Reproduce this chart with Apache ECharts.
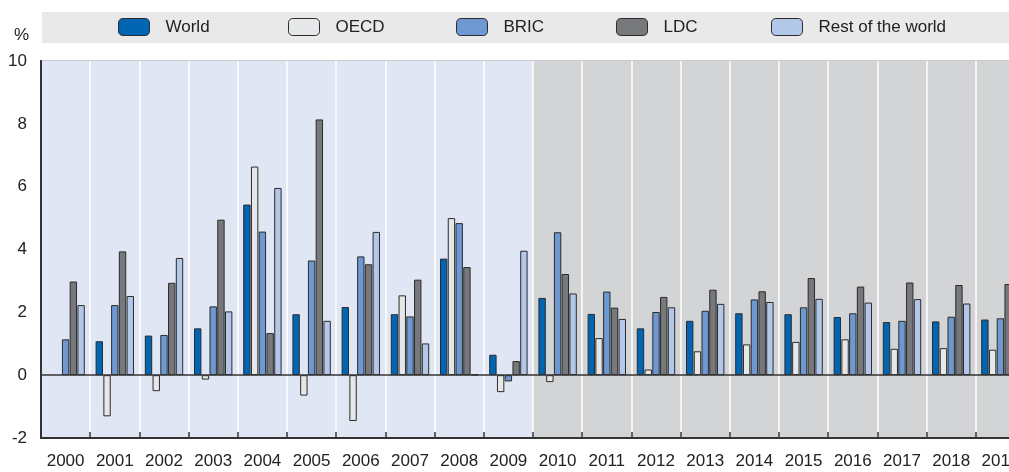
<!DOCTYPE html>
<html>
<head>
<meta charset="utf-8">
<title>Growth by country group</title>
<script src="https://cdn.jsdelivr.net/npm/echarts@6/dist/echarts.min.js"></script>
<style>
  html, body { margin: 0; padding: 0; background: #fff; overflow: hidden; }
  /* 图表比窗口略宽，最后一年在右边被截掉 */
  #chart { width: 1025px; height: 472px; }
</style>
</head>
<body>
<div id="chart"></div>
<script>
// 年份
const years = ['2000', '2001', '2002', '2003', '2004', '2005', '2006', '2007', '2008', '2009',
  '2010', '2011', '2012', '2013', '2014', '2015', '2016', '2017', '2018', '2019']
// 各组数据 (%)
const world = [null, 1.08, 1.26, 1.49, 5.43, 1.94, 2.17, 1.94, 3.71, 0.65,
  2.46, 1.95, 1.49, 1.73, 1.97, 1.94, 1.85, 1.69, 1.71, 1.77]
const oecd = [null, -1.31, -0.51, -0.14, 6.64, -0.65, -1.46, 2.54, 5.0, -0.54,
  -0.22, 1.18, 0.18, 0.76, 0.98, 1.06, 1.14, 0.84, 0.86, 0.81]
const bric = [1.14, 2.23, 1.28, 2.19, 4.57, 3.65, 3.78, 1.87, 4.84, -0.2,
  4.55, 2.66, 2.01, 2.05, 2.41, 2.16, 1.97, 1.73, 1.86, 1.81]
const ldc = [2.98, 3.94, 2.94, 4.95, 1.34, 8.14, 3.53, 3.04, 3.44, 0.45,
  3.22, 2.15, 2.49, 2.72, 2.67, 3.09, 2.82, 2.95, 2.87, 2.9]
const rest = [2.23, 2.52, 3.73, 2.03, 5.96, 1.73, 4.56, 1.01, 0.02, 3.96,
  2.6, 1.79, 2.16, 2.27, 2.33, 2.43, 2.31, 2.42, 2.28, 2.3]
const yTicks = [-2, 0, 2, 4, 6, 8, 10]

const font = "'Liberation Sans', Arial, sans-serif"
const seriesDefs = [
  { name: 'World', data: world, color: '#0066b3' },
  { name: 'OECD', data: oecd, color: '#e6e7e8' },
  { name: 'BRIC', data: bric, color: '#6e98d2' },
  { name: 'LDC', data: ldc, color: '#77787b' },
  { name: 'Rest of the world', data: rest, color: '#b3c7e8' }
]
// 图例每项的左边位置
const legendLeft = [118, 288, 456, 616, 771]

// 背景：2000-2009 浅蓝，2010 以后灰色
const bandColors = years.map(y => (Number(y) < 2010 ? '#e1e6f4' : '#d3d4d6'))

const chart = echarts.init(document.getElementById('chart'))
const option = {
  animation: false,
  textStyle: { fontFamily: font },
  graphic: [
    {
      type: 'rect',
      left: 42,
      top: 12,
      shape: { width: 983, height: 31 },
      style: { fill: '#e9e9ea' },
      z: -1
    },
    {
      type: 'text',
      left: 14,
      top: 27,
      style: { text: '%', fontSize: 17, fill: '#222', fontFamily: font }
    }
  ],
  legend: seriesDefs.map((s, i) => ({
    left: legendLeft[i],
    top: 18,
    padding: 0,
    itemWidth: 31,
    itemHeight: 17,
    textStyle: { fontSize: 17, color: '#222', padding: [0, 0, 0, 11] },
    itemStyle: { borderColor: '#2b2b2b', borderWidth: 1 },
    data: [s.name]
  })),
  grid: {
    left: 41,
    right: 0,
    top: 61,
    bottom: 34,
    show: true,
    borderColor: '#333',
    borderWidth: 2,
    backgroundColor: 'transparent'
  },
  xAxis: {
    type: 'category',
    data: years,
    boundaryGap: true,
    axisLine: { show: true, onZero: false, lineStyle: { color: '#333', width: 2 } },
    axisTick: { show: true, inside: true, length: 6, lineStyle: { color: '#333', width: 1.5 } },
    axisLabel: { fontSize: 17, color: '#222', margin: 15, interval: 0 },
    splitLine: { show: true, lineStyle: { color: '#ffffff', width: 1.5 } },
    splitArea: { show: true, areaStyle: { color: bandColors } }
  },
  yAxis: {
    type: 'value',
    min: yTicks[0],
    max: yTicks[yTicks.length - 1],
    interval: 2,
    axisLine: { show: true, lineStyle: { color: '#333', width: 2 } },
    axisTick: { show: false },
    axisLabel: { fontSize: 17, color: '#222', margin: 14 },
    splitLine: { show: true, lineStyle: { color: '#ffffff', width: 1.5 } }
  },
  series: seriesDefs.map((s, i) => ({
    name: s.name,
    type: 'bar',
    data: s.data,
    barGap: '5%',
    barCategoryGap: '22%',
    itemStyle: { color: s.color, borderColor: '#2b2b2b', borderWidth: 1 },
    // 零线
    markLine: i === 0 ? {
      silent: true,
      symbol: 'none',
      label: { show: false },
      lineStyle: { color: '#333', width: 1.5, type: 'solid' },
      data: [{ yAxis: 0 }]
    } : undefined
  }))
}
chart.setOption(option)
</script>
</body>
</html>
